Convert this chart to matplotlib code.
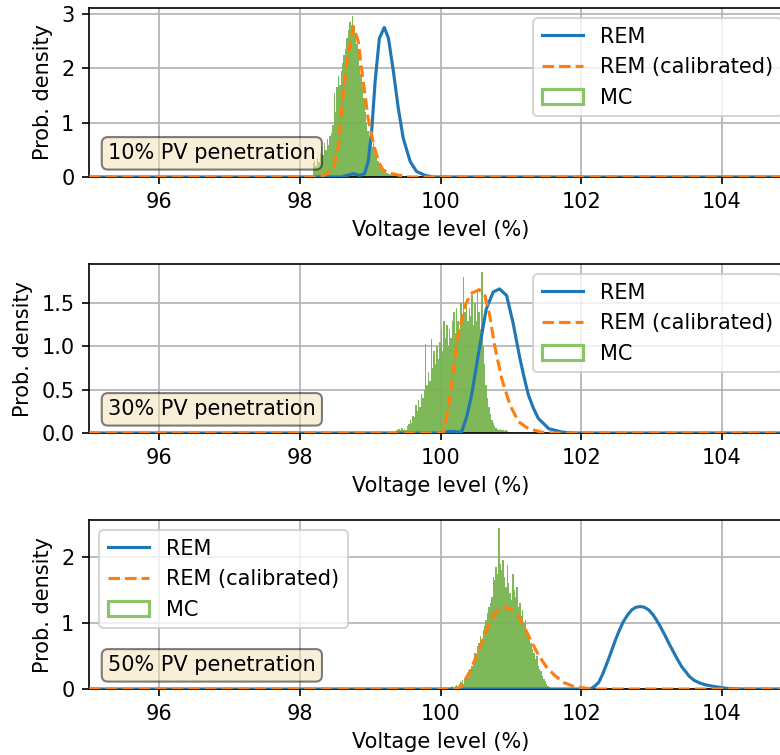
import matplotlib

matplotlib.use("Agg")
import matplotlib.pyplot as plt
import numpy as np
from matplotlib.patches import Patch
from matplotlib.lines import Line2D

# --- REM curves ---
rem10_x = [95.0, 98.6, 98.67, 98.76, 98.85, 98.92, 98.97, 99.02, 99.07, 99.13, 99.2,
           99.26, 99.33, 99.4, 99.47, 99.57, 99.66, 99.78, 99.9, 105.0]
rem10_y = [0.0, 0.0, 0.03, 0.06, 0.03, 0.06, 0.28, 0.83, 1.76, 2.55, 2.75,
           2.55, 1.94, 1.26, 0.71, 0.28, 0.10, 0.03, 0.0, 0.0]
cal10_x = [95.0, 98.25, 98.36, 98.48, 98.55, 98.6, 98.67, 98.76, 98.83, 98.9, 98.97,
           99.05, 99.12, 99.18, 99.28, 99.42, 99.55, 105.0]
cal10_y = [0.0, 0.0, 0.04, 0.16, 0.59, 1.33, 2.12, 2.77, 2.49, 1.76, 1.08,
           0.59, 0.28, 0.13, 0.07, 0.03, 0.0, 0.0]

rem30_x = [95.0, 100.0, 100.14, 100.3, 100.37, 100.44, 100.5, 100.56, 100.65, 100.75,
           100.84, 100.94, 101.03, 101.13, 101.19, 101.25, 101.32, 101.39, 101.54,
           101.73, 101.9, 105.0]
rem30_y = [0.0, 0.0, 0.02, 0.01, 0.18, 0.43, 0.72, 1.01, 1.43, 1.63,
           1.665, 1.59, 1.28, 0.86, 0.64, 0.44, 0.29, 0.17, 0.05,
           0.01, 0.0, 0.0]
cal30_x = [95.0, 100.04, 100.11, 100.18, 100.25, 100.35, 100.43, 100.55, 100.63, 100.7,
           100.77, 100.87, 100.99, 101.11, 101.25, 101.44, 101.6, 105.0]
cal30_y = [0.0, 0.0, 0.28, 0.70, 1.13, 1.47, 1.61, 1.657, 1.59, 1.36,
           1.01, 0.63, 0.32, 0.13, 0.05, 0.01, 0.0, 0.0]

rem50_x = [95.0, 102.13, 102.19, 102.25, 102.3, 102.36, 102.42, 102.48, 102.54, 102.6,
           102.66, 102.72, 102.78, 102.84, 102.9, 102.96, 103.02, 103.07, 103.13,
           103.19, 103.25, 103.31, 103.37, 103.43, 103.49, 103.54, 103.61, 103.69,
           103.78, 103.88, 104.07, 104.3, 105.0]
rem50_y = [0.0, 0.0, 0.04, 0.1, 0.21, 0.37, 0.54, 0.72, 0.88, 1.02,
           1.12, 1.2, 1.24, 1.25, 1.24, 1.2, 1.13, 1.05, 0.94,
           0.82, 0.69, 0.57, 0.45, 0.34, 0.26, 0.19, 0.13, 0.09,
           0.06, 0.04, 0.01, 0.0, 0.0]
cal50_x = [95.0, 100.2, 100.3, 100.42, 100.54, 100.63, 100.73, 100.82, 100.94, 101.05,
           101.15, 101.27, 101.39, 101.51, 101.63, 101.75, 101.89, 102.08, 102.2, 105.0]
cal50_y = [0.0, 0.0, 0.04, 0.27, 0.57, 0.82, 1.08, 1.2, 1.24, 1.18,
           1.03, 0.77, 0.52, 0.33, 0.2, 0.1, 0.04, 0.01, 0.0, 0.0]

# --- MC histograms: first bin edge, bin width, bin heights ---
bin_w = 0.02
mc10_start = 98.18
mc10 = [0.25, 0.30, 0.20, 0.35, 0.28, 0.45, 0.55, 0.40, 0.62, 0.50,
        0.70, 0.58, 0.75, 0.80, 0.95, 1.55, 1.20, 1.65, 1.85, 1.70,
        1.95, 2.10, 2.25, 2.35, 2.55, 2.70, 2.85, 2.80, 2.96, 2.75,
        2.60, 2.45, 2.30, 2.05, 1.90, 1.65, 1.45, 1.20, 1.00, 0.85,
        0.70, 0.65, 0.55, 0.62, 0.45, 0.38, 0.30, 0.25, 0.18, 0.14,
        0.12, 0.10, 0.08, 0.07, 0.05, 0.04, 0.04, 0.03, 0.03, 0.02,
        0.02, 0.02, 0.01, 0.02, 0.01, 0.01, 0.01, 0.01, 0.01, 0.01]
mc30_start = 99.36
mc30 = [0.04, 0.03, 0.05, 0.04, 0.06, 0.03, 0.05, 0.04, 0.08, 0.10,
        0.15, 0.12, 0.20, 0.18, 0.32, 0.25, 0.38, 0.30, 0.45, 0.40,
        0.50, 1.03, 0.55, 0.70, 0.60, 1.09, 0.75, 0.95, 0.80, 1.00,
        0.85, 1.05, 1.20, 0.95, 1.30, 1.10, 1.25, 1.00, 1.20, 1.10,
        1.30, 1.40, 1.15, 1.45, 1.30, 1.20, 1.50, 1.35, 1.80, 1.40,
        1.55, 1.30, 1.45, 1.35, 1.60, 1.25, 1.50, 1.30, 1.65, 1.40,
        1.20, 1.86, 1.00, 0.80, 0.55, 0.40, 0.30, 0.22, 0.15, 0.12,
        0.08, 0.06, 0.05, 0.04, 0.05, 0.03, 0.04, 0.02, 0.03, 0.02]
mc50_start = 100.14
mc50 = [0.03, 0.05, 0.02, 0.04, 0.06, 0.03, 0.08, 0.10, 0.14, 0.08,
        0.15, 0.20, 0.18, 0.28, 0.25, 0.35, 0.40, 0.55, 0.48, 0.65,
        0.70, 0.80, 0.75, 0.90, 0.95, 1.05, 1.15, 1.25, 1.30, 1.40,
        1.70, 1.65, 1.85, 1.75, 2.44, 1.90, 1.80, 1.95, 1.70, 1.55,
        1.88, 1.60, 1.45, 1.35, 1.75, 1.50, 1.40, 1.55, 1.25, 1.30,
        1.10, 1.20, 1.00, 1.05, 0.85, 0.80, 0.75, 0.70, 0.60, 0.55,
        0.45, 0.50, 0.35, 0.30, 0.28, 0.20, 0.15, 0.12, 0.08, 0.05,
        0.03]

labels = ["10% PV penetration", "30% PV penetration", "50% PV penetration"]
legend_locs = ["upper right", "upper right", "upper left"]

panels = [
    (rem10_x, rem10_y, cal10_x, cal10_y, mc10_start, mc10),
    (rem30_x, rem30_y, cal30_x, cal30_y, mc30_start, mc30),
    (rem50_x, rem50_y, cal50_x, cal50_y, mc50_start, mc50),
]

GREEN = "#78b450"

fig, axes = plt.subplots(3, 1, figsize=(5.2, 755 / 150), dpi=150)
fig.subplots_adjust(left=0.1141, right=1.0154, bottom=0.0874, top=0.9894, hspace=0.515)

for ax, (rx, ry, cx, cy, start, heights), label, loc in zip(axes, panels, labels, legend_locs):
    heights = np.asarray(heights)
    edges = start + bin_w * np.arange(len(heights) + 1)
    centers = 0.5 * (edges[:-1] + edges[1:])
    ax.hist(centers, bins=edges, weights=heights, histtype="stepfilled",
            color=GREEN, alpha=0.95, zorder=2)
    ax.plot(rx, ry, color="C0", lw=1.5, zorder=3)
    ax.plot(cx, cy, color="C1", lw=1.5, ls="--", zorder=4)
    ax.set_xlim(95, 105)
    ax.set_xticks([96, 98, 100, 102, 104])
    ax.grid(True, color="#b0b0b0", lw=0.8)
    ax.set_axisbelow(True)
    ax.set_xlabel("Voltage level (%)", fontsize=10)
    ax.set_ylabel("Prob. density", fontsize=10)
    ax.tick_params(labelsize=10)
    ax.text(0.027, 0.14, label, transform=ax.transAxes, fontsize=10, va="center",
            bbox=dict(boxstyle="round", facecolor="wheat", alpha=0.5))
    handles = [
        Line2D([], [], color="C0", lw=1.5),
        Line2D([], [], color="C1", lw=1.5, ls="--"),
        Patch(facecolor="none", edgecolor="#8cc46a", lw=1.5),
    ]
    ax.legend(handles, ["REM", "REM (calibrated)", "MC"], loc=loc, fontsize=10)

axes[1].set_yticks([0.0, 0.5, 1.0, 1.5])

fig.savefig("out.png", dpi=150)
